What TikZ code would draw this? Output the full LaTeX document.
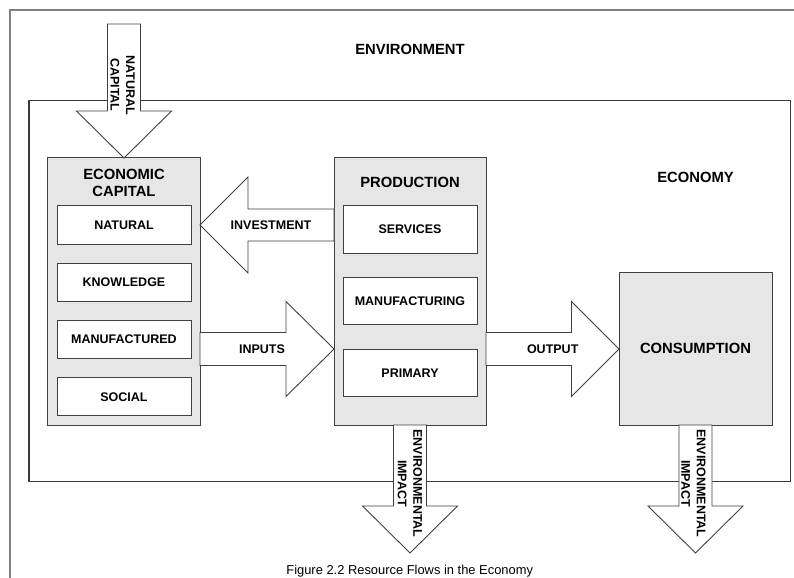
\documentclass[tikz,border=0pt]{standalone}
\usepackage{fontspec}
\setmainfont{Liberation Sans}
\definecolor{framegray}{HTML}{808080}
\definecolor{econline}{HTML}{3A3A3A}
\definecolor{linegray}{HTML}{404040}
\definecolor{boxgray}{HTML}{E6E6E6}
\newcommand\hdfont{\bfseries\fontsize{14.8bp}{17.5bp}\selectfont}
\newcommand\lbfont{\bfseries\fontsize{12.5bp}{15.5bp}\selectfont}
\newcommand\capfont{\fontsize{12.9bp}{15bp}\selectfont}
\begin{document}
\begin{tikzpicture}[x=1bp,y=-1bp,
  box/.style={draw=linegray, fill=boxgray, line width=1bp, inner sep=0pt},
  inbox/.style={draw=linegray, fill=white, line width=1bp, inner sep=0pt, minimum width=134bp, font=\lbfont},
  blockarrow/.style={draw=linegray, fill=white, line width=0.9bp, line join=miter},
  head/.style={font=\hdfont, inner sep=0pt, align=center},
  lab/.style={font=\lbfont, inner sep=0pt, align=center},
  vlab/.style={font=\lbfont, inner sep=0pt, align=center, rotate=-90}
]
\clip (0,0) rectangle (794,578);
\useasboundingbox (0,0) rectangle (794,578);
% frames
\draw[framegray, line width=1.6bp] (10,10) rectangle (820,620);
\draw[econline, line width=1.2bp] (29,100.7) rectangle (790.7,481.7);
\node[head] (envt) at (410,49) {ENVIRONMENT};
\node[head] (econt) at (695.5,177) {ECONOMY};
% main boxes
\node[box, minimum width=152bp, minimum height=267bp] (ecap) at (124,291.5) {};
\node[box, minimum width=152bp, minimum height=267bp] (prod) at (410,291.5) {};
\node[box, minimum width=153bp, minimum height=152.3bp, font=\hdfont] (cons) at (695.5,348.85) {CONSUMPTION};
\node[head] (ecapt) at (124,183) {ECONOMIC\\CAPITAL};
\node[head] (prodt) at (410,182) {PRODUCTION};
% inner boxes
\node[inbox, minimum height=38.3bp] (nat) at (124,224.85) {NATURAL};
\node[inbox, minimum height=38bp] (know) at (124,282) {KNOWLEDGE};
\node[inbox, minimum height=38bp] (manu) at (124,339) {MANUFACTURED};
\node[inbox, minimum height=38bp] (soc) at (124,396.7) {SOCIAL};
\node[inbox, minimum height=47.5bp] (serv) at (410,229.4) {SERVICES};
\node[inbox, minimum height=47.5bp] (mfg) at (410,301) {MANUFACTURING};
\node[inbox, minimum height=47.5bp] (prim) at (410,372.9) {PRIMARY};
% block arrows
\draw[blockarrow] (107.5,24) -- (140.5,24) -- (140.5,111) -- (171.5,111) -- (124,158) -- (76.5,111) -- (107.5,111) -- cycle;
\draw[blockarrow] (334,209) -- (248,209) -- (248,177) -- (200,225) -- (248,273) -- (248,241) -- (334,241) -- cycle;
\draw[blockarrow] (200,332.5) -- (286,332.5) -- (286,301.5) -- (334,349) -- (286,396.5) -- (286,365.5) -- (200,365.5) -- cycle;
\draw[blockarrow] (486,332.5) -- (571.5,332.5) -- (571.5,301.5) -- (619,349) -- (571.5,396.5) -- (571.5,365.5) -- (486,365.5) -- cycle;
\draw[blockarrow] (393.5,425) -- (426.5,425) -- (426.5,506) -- (457.5,506) -- (410,553) -- (362.5,506) -- (393.5,506) -- cycle;
\draw[blockarrow] (679,425) -- (712,425) -- (712,506) -- (743,506) -- (695.5,553) -- (648,506) -- (679,506) -- cycle;
% arrow labels
\node[vlab] (natcapt) at (122.5,85) {NATURAL\\CAPITAL};
\node[lab] (invt) at (271,225) {INVESTMENT};
\node[lab] (inpt) at (262,349) {INPUTS};
\node[lab] (outt) at (552.7,349) {OUTPUT};
\node[vlab] (imp1) at (410,483.5) {ENVIRONMENTAL\\IMPACT};
\node[vlab] (imp2) at (693.5,483.5) {ENVIRONMENTAL\\IMPACT};
% caption
\node[font=\capfont, inner sep=0pt, anchor=base] (cap) at (409.7,574.8) {Figure 2.2 Resource Flows in the Economy};
\end{tikzpicture}
\end{document}
